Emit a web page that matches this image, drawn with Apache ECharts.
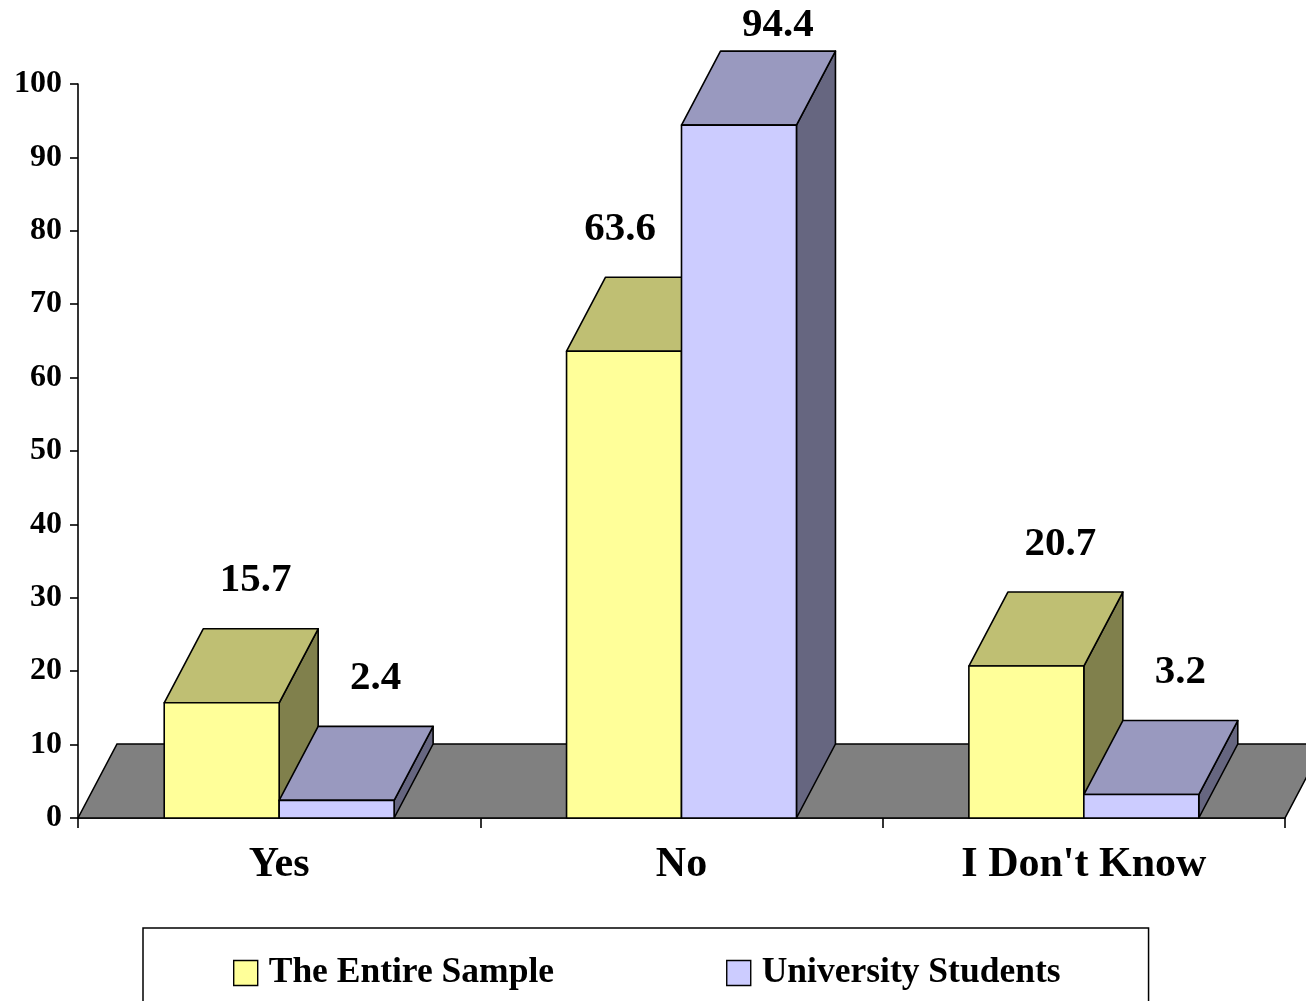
<!DOCTYPE html>
<html>
<head>
<meta charset="utf-8">
<script src="https://cdn.jsdelivr.net/npm/echarts@6/dist/echarts.min.js"></script>
<style>
html,body{margin:0;padding:0;background:#fff;}
#chart{width:1306px;height:1001px;}
</style>
</head>
<body>
<div id="chart"></div>
<script>
const categories = ['Yes', 'No', "I Don't Know"];
const seriesNames = ['The Entire Sample', 'University Students'];
const entireSample = [15.7, 63.6, 20.7];
const universityStudents = [2.4, 94.4, 3.2];
const yMin = 0, yMax = 100, yInterval = 10;

const SERIF = '"Liberation Serif", "Times New Roman", serif';
const DX = 39, DY = 74;
const palettes = [
  {front: '#FFFF99', top: '#BFBF73', side: '#80804C'},
  {front: '#CCCCFF', top: '#9999BF', side: '#666680'}
];
const allValues = [entireSample, universityStudents];

function barRenderer(k) {
  return function (params, api) {
    const idx = api.value(0), val = api.value(1);
    const base = api.coord([idx, 0]);
    const topPt = api.coord([idx, val]);
    const band = api.size([1, 0])[0];
    const w = band / 3.5;
    const x0 = base[0] - w + k * w, x1 = x0 + w;
    const yb = base[1], yt = topPt[1];
    const pal = palettes[k];
    const edge = {stroke: '#000', lineWidth: 1.6, lineJoin: 'round'};
    const other = allValues[1 - k][idx];
    let lx = (x0 + x1) / 2 + DX - (k === 0 ? 5 : 0);
    if (k === 0 && other > val) lx = (x0 + x1) / 2 - 4;
    const ly = Math.max(yt - DY - 48, 25);
    return {
      type: 'group',
      children: [
        {type: 'polygon', shape: {points: [[x1, yt], [x1 + DX, yt - DY], [x1 + DX, yb - DY], [x1, yb]]},
          style: Object.assign({fill: pal.side}, edge)},
        {type: 'polygon', shape: {points: [[x0, yt], [x0 + DX, yt - DY], [x1 + DX, yt - DY], [x1, yt]]},
          style: Object.assign({fill: pal.top}, edge)},
        {type: 'rect', shape: {x: x0, y: yt, width: w, height: yb - yt},
          style: Object.assign({fill: pal.front}, edge)},
        {type: 'text', style: {text: String(val), x: lx, y: ly, align: 'center', verticalAlign: 'middle',
          fontFamily: SERIF, fontWeight: 'bold', fontSize: 41, fill: '#000'}}
      ]
    };
  };
}

function floorRenderer(params, api) {
  const cs = params.coordSys;
  const y0 = api.coord([0, 0])[1];
  const xl = cs.x, xr = cs.x + cs.width;
  return {
    type: 'polygon',
    shape: {points: [[xl, y0], [xl + DX, y0 - DY], [xr + DX, y0 - DY], [xr, y0]]},
    style: {fill: '#808080', stroke: '#000', lineWidth: 1.6}
  };
}

const chart = echarts.init(document.getElementById('chart'), null, {renderer: 'canvas'});
chart.setOption({
  animation: false,
  backgroundColor: '#fff',
  grid: {left: 78, right: 21, top: 84, bottom: 183, containLabel: false},
  xAxis: {
    type: 'category',
    data: categories,
    axisLine: {lineStyle: {color: '#000', width: 1.6}},
    axisTick: {show: true, length: 10, lineStyle: {color: '#000', width: 1.6}},
    axisLabel: {color: '#000', fontFamily: SERIF, fontWeight: 'bold', fontSize: 42, lineHeight: 42, margin: 26},
    splitLine: {show: false}
  },
  yAxis: {
    type: 'value',
    min: yMin, max: yMax, interval: yInterval,
    axisLine: {show: true, lineStyle: {color: '#000', width: 1.6}},
    axisTick: {show: true, length: 8, lineStyle: {color: '#000', width: 1.6}},
    axisLabel: {color: '#000', fontFamily: SERIF, fontWeight: 'bold', fontSize: 32, margin: 16},
    splitLine: {show: false}
  },
  legend: {
    data: seriesNames,
    left: 143, top: 928,
    orient: 'horizontal',
    padding: [27, 88, 27, 90],
    itemGap: 172,
    itemWidth: 24, itemHeight: 25,
    icon: 'rect',
    borderColor: '#000', borderWidth: 1.5,
    itemStyle: {borderColor: '#000', borderWidth: 1.4},
    textStyle: {color: '#000', fontFamily: SERIF, fontWeight: 'bold', fontSize: 35.5, padding: [0, 0, 0, 6]}
  },
  series: [
    {type: 'custom', name: 'floor', z: 1, silent: true, renderItem: floorRenderer, data: [[0, 0]]},
    {type: 'custom', name: seriesNames[0], z: 2, itemStyle: {color: palettes[0].front},
      renderItem: barRenderer(0), data: entireSample.map((v, i) => [i, v])},
    {type: 'custom', name: seriesNames[1], z: 3, itemStyle: {color: palettes[1].front},
      renderItem: barRenderer(1), data: universityStudents.map((v, i) => [i, v])}
  ]
});
</script>
</body>
</html>
